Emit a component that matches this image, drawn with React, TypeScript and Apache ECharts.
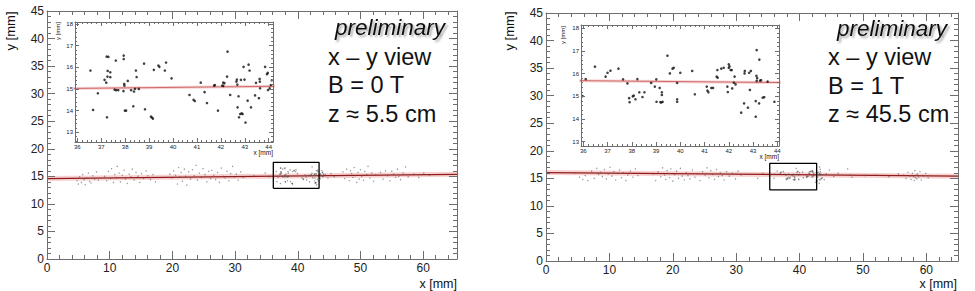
import React, { useEffect, useRef } from "react";
import * as echarts from "echarts";

const FONT = "Liberation Sans, Arial, sans-serif";

// ---------- data ----------
// left panel (B = 0 T, z ≈ 5.5 cm): hits outside the zoom window
const leftMainPts: number[][] = [
  [4.8, 14.2], [5.0, 13.6], [5.2, 14.9], [5.5, 13.9], [5.7, 15.3], [5.9, 14.4], [6.1, 13.5], [6.3, 14.7],
  [6.6, 15.6], [6.8, 14.1], [7.0, 13.8], [7.3, 15.1], [7.6, 14.5], [7.9, 15.8], [8.2, 14.3],
  [9.2, 15.0], [9.5, 14.2], [9.8, 15.9], [10.1, 14.6], [10.3, 16.4], [10.6, 13.9], [10.8, 15.3], [11.0, 14.8],
  [11.2, 16.8], [11.5, 15.6], [11.7, 14.0], [12.0, 15.2], [12.3, 16.1], [12.5, 14.5], [12.8, 13.7], [13.1, 15.4],
  [13.4, 14.9], [13.6, 16.3], [13.9, 14.3], [14.2, 15.7], [14.5, 15.0], [14.8, 13.9], [15.1, 15.5], [15.4, 14.6],
  [15.8, 16.0], [16.1, 15.1], [16.5, 14.4], [16.9, 15.3], [17.3, 14.0],
  [19.6, 15.4], [19.9, 14.7], [20.2, 16.0], [20.5, 15.2], [20.8, 13.6], [21.0, 16.6], [21.2, 14.9], [21.4, 15.7],
  [21.6, 14.1], [21.9, 16.3], [22.1, 15.0], [22.3, 13.4], [22.6, 15.8], [22.9, 14.5], [23.2, 16.2], [23.5, 15.1],
  [23.8, 17.0], [24.0, 14.3], [24.3, 15.6], [24.6, 14.8], [24.9, 16.4], [25.2, 15.3], [25.5, 14.0], [25.8, 15.9],
  [26.1, 14.6], [26.3, 16.1], [26.6, 15.2], [26.9, 14.4], [27.2, 15.7], [27.5, 13.9], [27.8, 16.5], [28.1, 15.0],
  [28.4, 14.7], [28.7, 15.9], [29.0, 14.2], [29.3, 15.5], [29.6, 16.8], [29.9, 14.9], [30.2, 15.4], [30.5, 14.3],
  [30.9, 15.8], [31.3, 14.8],
  [33.0, 15.1], [34.8, 15.6], [35.4, 14.9],
  [44.4, 15.3], [44.8, 14.7], [45.3, 15.5], [45.8, 14.9],
  [47.2, 15.8], [47.5, 14.6], [47.8, 16.3], [48.0, 15.2], [48.2, 14.2], [48.4, 16.0], [48.6, 15.5], [48.8, 14.8],
  [49.0, 16.6], [49.2, 15.1], [49.4, 13.9], [49.6, 15.7], [49.8, 14.5], [50.0, 16.2], [50.2, 15.0], [50.5, 14.3],
  [50.7, 15.9], [51.0, 15.3], [51.2, 16.8], [51.5, 14.7], [51.8, 15.6], [52.1, 14.1], [52.4, 15.2],
  [53.2, 15.7], [53.6, 14.5], [54.0, 16.0], [54.3, 15.1], [54.7, 14.2], [55.0, 15.9], [55.3, 15.4], [55.6, 14.8],
  [55.9, 16.3], [56.1, 15.0], [56.4, 14.4], [56.8, 15.6], [57.2, 16.7], [57.6, 14.9],
  [58.5, 15.4], [59.3, 14.8], [60.1, 15.6], [61.0, 15.2],
];

// left panel: hits inside the zoom window (shown in the inset)
const leftInsetPts: number[][] = [
  [36.55, 15.85], [36.66, 14.03], [36.86, 14.8], [37.14, 15.42], [37.21, 15.29], [37.24, 13.69], [37.23, 16.49],
  [37.3, 16.48], [37.27, 15.83], [37.26, 15.57], [37.38, 15.54], [37.38, 15.77], [37.56, 14.97], [37.61, 16.31],
  [37.62, 14.94], [37.71, 14.94], [37.94, 16.54], [37.94, 16.38], [37.96, 15.23], [37.97, 15.15], [37.93, 14.9],
  [37.99, 14.0], [38.04, 14.0], [38.11, 15.37], [38.25, 14.94], [38.34, 14.2], [38.37, 14.88], [38.41, 15.0],
  [38.45, 15.85], [38.48, 15.55], [38.57, 15.0], [38.79, 16.17], [38.83, 14.06], [39.08, 13.72], [39.12, 13.68],
  [39.16, 13.63], [39.2, 15.88], [39.39, 16.08], [39.43, 16.02], [39.66, 15.85], [39.71, 16.22], [39.94, 15.49],
  [40.69, 14.72], [40.86, 14.5], [40.91, 14.44], [41.16, 15.29], [41.32, 14.85], [41.42, 14.35], [41.72, 15.15],
  [41.75, 15.18], [41.88, 14.0], [42.06, 15.15], [42.1, 15.14], [42.1, 15.29], [42.15, 15.27], [42.26, 15.57],
  [42.28, 16.72], [42.39, 14.72], [42.65, 15.34], [42.69, 15.2], [42.67, 15.43], [42.7, 14.15], [42.74, 14.66],
  [42.81, 13.84], [42.87, 13.87], [42.91, 13.84], [42.76, 13.69], [42.84, 15.42], [42.95, 16.02], [42.99, 15.43],
  [43.03, 13.45], [43.12, 14.46], [43.16, 16.12], [43.2, 15.85], [43.26, 14.15], [43.43, 14.7], [43.47, 15.28],
  [43.59, 14.57], [43.62, 15.46], [43.63, 15.34], [43.64, 15.03], [43.85, 16.02], [43.93, 15.68], [43.96, 15.74],
  [43.97, 14.95], [44.04, 15.03], [44.09, 15.18], [44.13, 15.4],
];

// right panel (B = 1 T, z ≈ 45.5 cm): hits outside the zoom window
const rightMainPts: number[][] = [
  [4.6, 16.0], [5.3, 15.2], [5.8, 14.8], [6.2, 15.5], [6.6, 14.6], [7.2, 16.3], [7.6, 15.0], [8.0, 16.8],
  [8.3, 15.7], [8.6, 16.1], [8.9, 15.3], [9.2, 16.6], [9.5, 14.9], [9.8, 15.8], [10.1, 17.0], [10.4, 15.4],
  [10.7, 16.2], [11.0, 14.7], [11.3, 15.9], [11.6, 16.5], [11.9, 15.1], [12.2, 16.0], [12.6, 14.6], [12.9, 15.6],
  [13.3, 16.3], [13.7, 15.2], [14.1, 16.7], [14.5, 15.5],
  [16.9, 15.8], [17.3, 14.6], [17.7, 16.2], [18.1, 15.3], [18.4, 16.9], [18.7, 15.6], [18.9, 14.8], [19.1, 16.4],
  [19.3, 15.9], [19.5, 15.1], [19.7, 16.7], [20.0, 14.5], [20.3, 15.7], [20.6, 16.3], [20.9, 15.0], [21.2, 16.8],
  [21.5, 15.4], [21.8, 14.7], [22.1, 16.0], [22.4, 15.5], [22.7, 14.9], [23.1, 16.5], [23.5, 15.2], [23.9, 15.8],
  [24.3, 14.6], [24.7, 16.2], [25.1, 15.6], [25.4, 16.9], [25.7, 15.1], [26.0, 16.4], [26.3, 15.7], [26.6, 14.8],
  [26.9, 16.6], [27.2, 15.3], [27.5, 16.0], [27.8, 15.5], [28.1, 14.7], [28.5, 16.2], [28.9, 15.4], [29.4, 15.9],
  [29.9, 14.9], [30.3, 16.3], [30.8, 15.6],
  [33.4, 15.0], [34.2, 15.9],
  [43.3, 16.2], [43.6, 15.1], [44.2, 15.8], [44.7, 16.5], [45.4, 15.3], [46.1, 15.9], [47.6, 16.7], [48.0, 15.6],
  [48.3, 15.2],
  [50.2, 15.5], [52.0, 15.6], [54.1, 15.3], [55.6, 15.8],
  [56.4, 15.6], [56.8, 15.0], [57.1, 16.1], [57.4, 15.4], [57.6, 14.8], [57.8, 15.9], [58.0, 15.3], [58.1, 14.6],
  [58.2, 16.4], [58.3, 15.1], [58.4, 15.6], [58.5, 14.9], [58.6, 15.8], [58.8, 15.2], [59.0, 16.2], [59.2, 14.7],
  [59.5, 15.5], [59.9, 15.9], [60.3, 15.1],
];

// right panel: hits inside the zoom window (shown in the inset)
const rightInsetPts: number[][] = [
  [35.97, 15.01], [36.1, 15.76], [36.48, 16.31], [36.92, 15.87], [37.0, 16.04], [37.12, 16.13], [37.45, 16.22],
  [37.64, 15.75], [37.82, 15.57], [37.89, 14.92], [37.91, 14.74], [38.04, 15.0], [38.08, 15.03], [38.15, 14.87],
  [38.23, 15.76], [38.31, 15.18], [38.44, 14.97], [38.52, 15.18], [38.8, 15.59], [38.95, 15.43], [39.01, 15.75],
  [39.02, 14.76], [39.15, 15.37], [39.18, 14.74], [39.22, 14.73], [39.27, 14.76], [39.24, 15.06], [39.24, 15.18],
  [39.47, 16.79], [39.57, 16.01], [39.68, 16.22], [39.73, 16.26], [39.87, 15.59], [39.87, 14.87], [39.87, 14.76],
  [40.0, 16.04], [40.49, 16.12], [40.6, 15.09], [41.09, 15.43], [41.12, 15.25], [41.16, 15.18], [41.28, 15.37],
  [41.35, 15.37], [41.5, 15.87], [41.54, 15.82], [41.53, 16.16], [41.69, 16.22], [41.79, 16.26], [41.94, 15.43],
  [41.96, 15.19], [42.0, 16.41], [42.03, 16.32], [42.0, 16.26], [42.08, 16.16], [42.12, 16.16], [42.14, 15.35],
  [42.21, 15.6], [42.24, 15.87], [42.28, 15.53], [42.51, 14.28], [42.63, 14.69], [42.65, 16.01], [42.66, 16.12],
  [42.79, 14.5], [42.84, 16.04], [42.87, 15.28], [42.91, 16.12], [43.11, 14.79], [43.11, 14.1], [43.15, 17.04],
  [43.14, 15.9], [43.15, 15.68], [43.17, 15.8], [43.25, 14.69], [43.26, 16.62], [43.29, 15.69], [43.33, 15.71],
  [43.4, 14.94], [43.46, 14.96], [43.6, 15.65], [43.88, 14.76],
];

// straight-line fits (end points)
const leftFit: number[][] = [[0, 14.6], [65.4, 15.37]];
const rightFit: number[][] = [[0, 16.05], [65, 15.4]];

// zoom-window boxes drawn on the main plots
const leftBox: number[][] = [[36.1, 12.83], [43.4, 12.83], [43.4, 17.55], [36.1, 17.55], [36.1, 12.83]];
const rightBox: number[][] = [[35.3, 12.89], [42.7, 12.89], [42.7, 17.73], [35.3, 17.73], [35.3, 12.89]];

// axis ranges
const leftMainX = [0, 65.4];
const rightMainX = [0, 65];
const mainY = [0, 45];
const leftInsetX = [35.904, 44.18];
const leftInsetY = [12.55, 18.09];
const rightInsetX = [35.905, 44.07];
const rightInsetY = [12.81, 18.146];

// text
const leftLabels = ["x – y view", "B = 0 T", "z ≈ 5.5 cm"];
const rightLabels = ["x – y view", "B = 1 T", "z ≈ 45.5 cm"];

// ---------- styling helpers ----------
const AX = "#6e6e6e";

type AxOpt = {
  grid: number;
  range: number[];
  pos: string;
  labels: boolean;
  small: boolean;
  interval?: number;
  split?: number;
  hideMax?: boolean;
  hideMin?: boolean;
};

function axis(o: AxOpt) {
  return {
    type: "value",
    gridIndex: o.grid,
    min: o.range[0],
    max: o.range[1],
    position: o.pos,
    interval: o.interval,
    splitNumber: o.split,
    z: 10,
    axisLine: { show: true, onZero: false, lineStyle: { color: AX, width: 1 } },
    axisTick: { show: true, inside: true, length: o.small ? 4 : 8, lineStyle: { color: AX, width: 1 } },
    minorTick: { show: true, splitNumber: 5, length: o.small ? 2 : 4, lineStyle: { color: AX, width: 1 } },
    axisLabel: {
      show: o.labels,
      fontSize: o.small ? 6 : 12,
      color: "#222",
      fontFamily: FONT,
      margin: o.small ? 2 : 3,
      showMaxLabel: !o.hideMax,
      showMinLabel: !o.hideMin,
    },
    splitLine: { show: false },
  };
}

function txt(x: number, y: number, text: string, size: number, align: string, extra: any = {}) {
  return {
    type: "text",
    x,
    y,
    rotation: extra.rotation || 0,
    z: 100,
    silent: true,
    style: {
      text,
      fill: extra.fill || "#111",
      fontSize: size,
      fontFamily: FONT,
      fontStyle: extra.italic ? "italic" : "normal",
      align,
      textAlign: align,
      verticalAlign: "middle",
      textVerticalAlign: "middle",
      textShadowColor: extra.shadow ? "rgba(0,0,0,0.35)" : undefined,
      textShadowBlur: extra.shadow ? 2 : undefined,
      textShadowOffsetX: extra.shadow ? 2 : undefined,
      textShadowOffsetY: extra.shadow ? 2 : undefined,
    },
  };
}

function panelSeries(
  mainX: number, mainY: number, insetX: number, insetY: number,
  fit: number[][], box: number[][], mainPts: number[][], insetPts: number[][]
) {
  return [
    { type: "line", xAxisIndex: mainX, yAxisIndex: mainY, data: fit, symbol: "none", silent: true,
      lineStyle: { color: "rgba(238,140,140,0.4)", width: 5 }, z: 1 },
    { type: "line", xAxisIndex: mainX, yAxisIndex: mainY, data: fit, symbol: "none", silent: true,
      lineStyle: { color: "#8e1c1c", width: 1.2 }, z: 2 },
    { type: "scatter", xAxisIndex: mainX, yAxisIndex: mainY, data: mainPts.concat(insetPts), symbol: "circle",
      symbolSize: 1.4, silent: true, itemStyle: { color: "#555", opacity: 0.6 }, z: 3 },
    { type: "line", xAxisIndex: mainX, yAxisIndex: mainY, data: box, symbol: "none", silent: true,
      lineStyle: { color: "#000", width: 1.3 }, z: 4 },
    { type: "line", xAxisIndex: insetX, yAxisIndex: insetY, data: fit, symbol: "none", silent: true, clip: true,
      lineStyle: { color: "rgba(238,150,150,0.45)", width: 3 }, z: 5 },
    { type: "line", xAxisIndex: insetX, yAxisIndex: insetY, data: fit, symbol: "none", silent: true, clip: true,
      lineStyle: { color: "#c86060", width: 0.9 }, z: 6 },
    { type: "scatter", xAxisIndex: insetX, yAxisIndex: insetY, data: insetPts, symbol: "circle",
      symbolSize: 2.6, silent: true, itemStyle: { color: "#111" }, z: 7 },
  ];
}

export default function App() {
  const ref = useRef<HTMLDivElement>(null);

  useEffect(() => {
    if (!ref.current) return;
    const chart = echarts.init(ref.current, undefined, { renderer: "svg" });

    const grid = [
      { left: 47, top: 11, width: 410, height: 248 },
      { left: 75, top: 22, width: 198, height: 120, show: true, backgroundColor: "#fff", borderWidth: 0 },
      { left: 546, top: 13, width: 412, height: 248 },
      { left: 581, top: 25, width: 198, height: 121, show: true, backgroundColor: "#fff", borderWidth: 0 },
    ];

    const xAxis = [
      axis({ grid: 0, range: leftMainX, pos: "bottom", labels: true, small: false, interval: 10, hideMax: true }),
      axis({ grid: 0, range: leftMainX, pos: "top", labels: false, small: false, interval: 10 }),
      axis({ grid: 1, range: leftInsetX, pos: "bottom", labels: true, small: true, split: 8, hideMax: true, hideMin: true }),
      axis({ grid: 1, range: leftInsetX, pos: "top", labels: false, small: true, split: 8 }),
      axis({ grid: 2, range: rightMainX, pos: "bottom", labels: true, small: false, interval: 10, hideMax: true }),
      axis({ grid: 2, range: rightMainX, pos: "top", labels: false, small: false, interval: 10 }),
      axis({ grid: 3, range: rightInsetX, pos: "bottom", labels: true, small: true, split: 8, hideMax: true, hideMin: true }),
      axis({ grid: 3, range: rightInsetX, pos: "top", labels: false, small: true, split: 8 }),
    ];
    const yAxis = [
      axis({ grid: 0, range: mainY, pos: "left", labels: true, small: false, interval: 5 }),
      axis({ grid: 0, range: mainY, pos: "right", labels: false, small: false, interval: 5 }),
      axis({ grid: 1, range: leftInsetY, pos: "left", labels: true, small: true, split: 5, hideMax: true, hideMin: true }),
      axis({ grid: 1, range: leftInsetY, pos: "right", labels: false, small: true, split: 5 }),
      axis({ grid: 2, range: mainY, pos: "left", labels: true, small: false, interval: 5 }),
      axis({ grid: 2, range: mainY, pos: "right", labels: false, small: false, interval: 5 }),
      axis({ grid: 3, range: rightInsetY, pos: "left", labels: true, small: true, split: 5, hideMax: true, hideMin: true }),
      axis({ grid: 3, range: rightInsetY, pos: "right", labels: false, small: true, split: 5 }),
    ];

    const series = [
      ...panelSeries(0, 0, 2, 2, leftFit, leftBox, leftMainPts, leftInsetPts),
      ...panelSeries(4, 4, 6, 6, rightFit, rightBox, rightMainPts, rightInsetPts),
    ];

    const graphic = [
      // axis titles
      txt(10, 31, "y [mm]", 13, "center", { rotation: Math.PI / 2 }),
      txt(457, 284, "x [mm]", 12.5, "right"),
      txt(509, 31, "y [mm]", 13, "center", { rotation: Math.PI / 2 }),
      txt(957, 284, "x [mm]", 12.5, "right"),
      // inset titles
      txt(58, 31, "y [mm]", 6, "center", { rotation: Math.PI / 2 }),
      txt(273, 152, "x [mm]", 6.5, "right"),
      txt(563, 35, "y [mm]", 6, "center", { rotation: Math.PI / 2 }),
      txt(779, 156, "x [mm]", 6.5, "right"),
      // annotation blocks
      txt(445, 27, "preliminary", 22.5, "right", { italic: true, shadow: true }),
      txt(328, 56.5, leftLabels[0], 23.5, "left"),
      txt(328, 84.8, leftLabels[1], 23.5, "left"),
      txt(328, 113.7, leftLabels[2], 23.5, "left"),
      txt(947, 28, "preliminary", 22.5, "right", { italic: true, shadow: true }),
      txt(828, 56.8, rightLabels[0], 23.5, "left"),
      txt(828, 85.7, rightLabels[1], 23.5, "left"),
      txt(828, 114.4, rightLabels[2], 23.5, "left"),
    ];

    chart.setOption({
      animation: false,
      backgroundColor: "#fff",
      textStyle: { fontFamily: FONT },
      grid,
      xAxis,
      yAxis,
      series,
      graphic,
    });

    return () => chart.dispose();
  }, []);

  return (
    <div
      ref={ref}
      style={{ position: "fixed", left: 0, top: 0, width: 975, height: 291, background: "#fff" }}
    />
  );
}
